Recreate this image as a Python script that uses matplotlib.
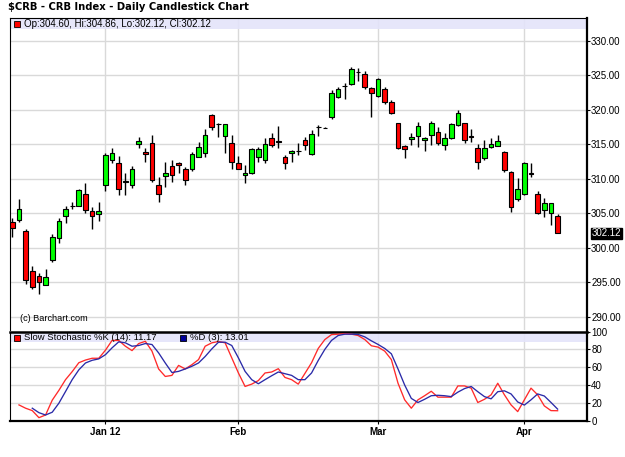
import matplotlib
matplotlib.use("Agg")
import matplotlib.pyplot as plt
from matplotlib.patches import Rectangle
from matplotlib.transforms import blended_transform_factory
import numpy as np

plt.rcParams['font.family'] = ['Liberation Sans', 'DejaVu Sans']

# Daily OHLC, CRB index (mid Dec 2011 to early Apr 2012)
opens = [303.8, 304.1, 302.5, 296.7, 295.9, 294.7, 298.2, 301.5, 304.6, 306.0,
         306.1, 307.8, 305.3, 304.9, 309.1, 312.7, 312.25, 309.6, 309.1, 315.0,
         313.85, 315.15, 309.1, 310.4, 311.9, 312.25, 311.4, 311.5, 313.2, 313.7,
         319.25, 318.0, 316.2, 315.15, 312.35, 310.5, 310.8, 313.2, 312.7, 315.9,
         315.5, 313.1, 313.7, 314.0, 315.6, 313.55, 317.5, 317.4, 319.0, 321.9,
         323.45, 323.7, 325.4, 325.2, 323.2, 322.05, 322.95, 321.1, 318.05, 314.75,
         315.7, 316.2, 315.6, 316.35, 316.8, 314.9, 315.95, 317.8, 318.05, 316.25,
         314.4, 313.0, 314.55, 314.8, 313.9, 310.95, 307.1, 307.8, 310.8, 307.75,
         305.5, 305.0, 304.60]
highs = [304.3, 307.1, 302.8, 297.4, 296.4, 296.9, 302.0, 304.3, 306.1, 306.7,
         308.6, 309.4, 305.9, 306.7, 313.8, 314.4, 313.3, 310.8, 311.9, 316.0,
         314.5, 316.35, 310.3, 312.5, 312.7, 312.5, 311.7, 313.9, 315.4, 317.2,
         319.4, 318.1, 318.0, 316.35, 313.3, 312.0, 314.4, 314.65, 315.9, 316.7,
         317.65, 313.45, 314.2, 315.15, 316.0, 317.1, 317.8, 317.45, 322.8, 323.25,
         323.9, 326.15, 326.0, 325.65, 323.35, 324.55, 323.35, 321.4, 318.1, 314.9,
         316.6, 318.3, 316.1, 318.4, 317.55, 316.6, 318.1, 320.0, 318.1, 317.2,
         315.0, 315.6, 315.9, 316.35, 314.0, 311.1, 310.1, 312.5, 312.25, 308.3,
         307.2, 306.55, 304.86]
lows = [301.6, 303.7, 294.8, 294.05, 293.4, 294.7, 297.9, 300.7, 303.65, 305.6,
        306.0, 305.0, 302.8, 303.9, 308.3, 312.25, 307.7, 307.7, 308.7, 314.5,
        312.5, 309.6, 306.7, 308.8, 309.6, 310.8, 309.1, 311.2, 313.1, 313.2,
        317.1, 316.0, 313.8, 311.5, 311.4, 309.35, 310.65, 312.5, 312.25, 314.65,
        314.4, 311.4, 312.5, 313.45, 314.2, 313.45, 316.2, 317.35, 318.6, 321.75,
        321.5, 323.6, 324.1, 322.95, 319.0, 321.9, 320.9, 319.35, 314.3, 313.0,
        314.9, 314.65, 314.1, 314.9, 314.9, 314.2, 315.7, 317.65, 315.15, 315.4,
        311.5, 312.7, 314.5, 314.75, 311.05, 305.25, 306.8, 307.65, 310.3, 304.85,
        304.5, 303.3, 302.12]
closes = [302.9, 305.7, 295.4, 294.4, 295.0, 295.8, 301.6, 303.9, 305.6, 306.1,
          308.4, 305.5, 304.6, 305.3, 313.45, 313.8, 308.5, 309.65, 311.5, 315.5,
          313.6, 309.9, 307.8, 310.8, 310.55, 311.95, 309.9, 313.6, 314.65, 316.35,
          317.5, 317.95, 317.9, 312.5, 311.5, 310.9, 314.3, 314.3, 315.0, 314.85,
          315.4, 312.25, 314.0, 314.05, 314.9, 316.5, 317.55, 317.4, 322.5, 323.0,
          323.5, 325.9, 325.45, 323.25, 322.4, 324.4, 321.15, 319.5, 314.4, 314.3,
          316.1, 317.65, 315.95, 318.1, 315.15, 315.95, 317.9, 319.5, 315.6, 316.0,
          312.4, 314.5, 315.0, 315.5, 311.3, 305.95, 308.5, 312.25, 310.75, 305.0,
          306.45, 306.45, 302.12]

# Slow stochastic %K starts at bar 1, %D at bar 3
stoch_k = [17.7, 14, 11.3, 3.4, 6.4, 23, 34, 46, 55, 65, 68, 70, 70, 79, 90, 90,
           83.5, 78.6, 86.5, 89, 78, 58, 49.6, 50.8, 62, 58, 62.8, 68.5, 83.5, 87.3,
           88.8, 87.3, 70.4, 53.5, 38.4, 41, 45, 53.5, 54.6, 58.3, 48.5, 46, 41, 53,
           65, 81, 91, 96.5, 97, 97.5, 97, 95.5, 91, 84, 82.5, 78, 68.5, 42, 23.4,
           14, 23.4, 28, 33, 26.4, 26.4, 26.4, 39, 39, 36.5, 20.4, 24, 29, 42, 29,
           17.7, 10.2, 23.4, 36.5, 29, 16.6, 11.3, 11.17]
stoch_d = [14, 9, 6.4, 9.5, 19.6, 32.7, 46, 57, 64.7, 67.7, 69.3, 74, 81.7, 88.4,
           87.3, 83.5, 84.3, 86.5, 85.4, 76, 64.7, 54, 55.3, 58, 61, 64.7, 72, 80.5,
           88, 88, 84.3, 70.4, 55.3, 46, 41.4, 46, 50.4, 54.6, 52.7, 50.8, 46, 46,
           53.5, 67.5, 80, 90, 95.5, 97, 97, 96.7, 94, 89.5, 85.5, 81, 75, 58, 40,
           25, 20.4, 24, 28, 28.5, 28, 27, 32, 36, 38.4, 32.5, 27, 24.5, 32.5, 33.5,
           30, 21, 17.5, 23.4, 30, 27.7, 20.5, 13.01]

month_ticks = [14, 34, 55, 77]
month_labels = ['Jan 12', 'Feb', 'Mar', 'Apr']

W, H = 625, 457
fig = plt.figure(figsize=(W / 100, H / 100), dpi=100)


def px_rect(left, top, right, bottom):
    return [left / W, 1 - bottom / H, (right - left) / W, (bottom - top) / H]


ax = fig.add_axes(px_rect(10, 18, 587, 330))
ax2 = fig.add_axes(px_rect(10, 331.5, 587, 420.7))

x = np.arange(len(closes))
o = np.array(opens)
c = np.array(closes)
up = c >= o
xlim = (-0.35, 86.42)

# candles
grid_col = '#d9d9d9'
px_x = 1 / 6.65
px_y = 1 / 6.9075
ax.bar(x + px_x, c - o, bottom=o - px_y, width=0.7, color='#a0a0a0', zorder=2, linewidth=0)
ax.vlines(x, lows, highs, color='black', lw=1.0, zorder=3)
ax.bar(x[up], (c - o)[up], bottom=o[up], width=0.7, color='#00ff00',
       edgecolor='black', linewidth=0.8, zorder=4)
ax.bar(x[~up], (c - o)[~up], bottom=o[~up], width=0.7, color='#ff0000',
       edgecolor='black', linewidth=0.8, zorder=4)

ax.set_xlim(*xlim)
ax.set_ylim(288.12, 333.29)
ax.set_xticks(month_ticks)
ax.tick_params(axis='x', length=0, labelbottom=False)
ax.set_yticks(np.arange(290, 331, 5))
ax.yaxis.tick_right()
ax.set_yticklabels([f'{v:.2f}' for v in np.arange(290, 331, 5)])
ax.tick_params(axis='y', length=2.2, width=0.8, pad=0.8, labelsize=7)
ax.grid(True, color=grid_col, lw=1.0, zorder=0)
ax.set_axisbelow(True)
for s in ['left', 'top']:
    ax.spines[s].set_linewidth(0.8)
ax.spines['right'].set_linewidth(1.6)
ax.spines['bottom'].set_visible(False)

ax.add_patch(Rectangle((0, 1 - 11.3 / 312), 1, 11.3 / 312, transform=ax.transAxes,
                       facecolor='#e4e4fa', alpha=0.9, edgecolor='none', zorder=1))

tr = blended_transform_factory(ax.transAxes, ax.transData)
ax.text(1.0075, closes[-1], f'{closes[-1]:.2f}', transform=tr, fontsize=7,
        color='white', va='center', ha='left', zorder=10,
        bbox=dict(boxstyle='square,pad=0.08', facecolor='black', edgecolor='black'),
        clip_on=False)

# stochastic panel
ax2.plot(x[1:1 + len(stoch_k)], stoch_k, color='#ff2a2a', lw=0.95, zorder=3)
ax2.plot(x[3:3 + len(stoch_d)], stoch_d, color='#2a2aa8', lw=0.95, zorder=3)
ax2.set_xlim(*xlim)
ax2.set_ylim(0, 100)
ax2.set_xticks(month_ticks)
ax2.set_xticklabels(month_labels, fontsize=7, fontweight='bold')
ax2.tick_params(axis='x', length=2.2, width=0.8, pad=2)
ax2.set_yticks(np.arange(0, 101, 20))
ax2.yaxis.tick_right()
ax2.tick_params(axis='y', length=2.2, width=0.8, pad=0.8, labelsize=7)
ax2.grid(True, color=grid_col, lw=1.0, zorder=0)
ax2.set_axisbelow(True)
ax2.spines['left'].set_linewidth(0.8)
ax2.spines['top'].set_linewidth(1.8)
ax2.spines['right'].set_linewidth(1.6)
ax2.spines['bottom'].set_linewidth(1.6)
ax2.add_patch(Rectangle((0, 1 - 10.8 / 89.2), 1, 10.8 / 89.2, transform=ax2.transAxes,
                        facecolor='#e4e4fa', alpha=0.9, edgecolor='none', zorder=1))


def fx(px):
    return px / W


def fy(py):
    return 1 - py / H


# title, legends, credits
fig.text(fx(8), fy(7.5), '$CRB - CRB Index - Daily Candlestick Chart', fontsize=7.2,
         fontweight='bold', family='DejaVu Sans', va='center', ha='left')
fig.add_artist(Rectangle((fx(14), fy(27)), 6 / W, 6 / H, transform=fig.transFigure,
                         facecolor='#ff0000', edgecolor='black', lw=0.6))
fig.text(fx(24.5), fy(24), 'Op:304.60, Hi:304.86, Lo:302.12, Cl:302.12', fontsize=7,
         va='center', ha='left')
fig.text(fx(20.5), fy(318.5), '(c) Barchart.com', fontsize=6.6, va='center', ha='left')
fig.add_artist(Rectangle((fx(13.5), fy(341)), 6 / W, 6 / H, transform=fig.transFigure,
                         facecolor='#ff0000', edgecolor='black', lw=0.6))
fig.text(fx(24.5), fy(338), 'Slow Stochastic %K (14): 11.17', fontsize=6.8,
         va='center', ha='left')
fig.add_artist(Rectangle((fx(180), fy(341)), 6 / W, 6 / H, transform=fig.transFigure,
                         facecolor='#000099', edgecolor='black', lw=0.6))
fig.text(fx(190), fy(338), '%D (3): 13.01', fontsize=6.8, va='center', ha='left')

fig.savefig('out.png', dpi=100, facecolor='white')
